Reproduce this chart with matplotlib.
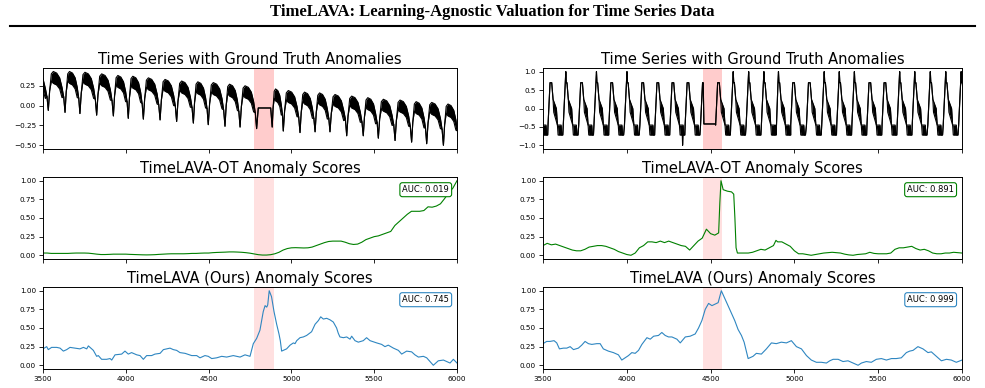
import matplotlib
matplotlib.use("Agg")
import matplotlib.pyplot as plt
from matplotlib.lines import Line2D
import numpy as np

TITLE = "TimeLAVA: Learning-Agnostic Valuation for Time Series Data"
ROW_TITLES = ["Time Series with Ground Truth Anomalies",
              "TimeLAVA-OT Anomaly Scores",
              "TimeLAVA (Ours) Anomaly Scores"]
X_TICKS = [3500, 4000, 4500, 5000, 5500, 6000]

# anomaly windows
LEFT_SPAN = (4775, 4895)
RIGHT_SPAN = (4455, 4568)

AUC_OT = ["AUC: 0.019", "AUC: 0.891"]
AUC_OURS = ["AUC: 0.745", "AUC: 0.999"]

# ---- left time series, read cycle by cycle (trough x, trough y, peak y)
left_trough_x = [3432, 3532, 3633, 3723, 3824, 3925, 4015, 4106, 4207, 4307,
                 4408, 4498, 4599, 4690, 4790]
left_trough_y = [-0.05, -0.06, -0.085, -0.10, -0.12, -0.13, -0.16, -0.17, -0.18,
                 -0.20, -0.22, -0.24, -0.26, -0.27, -0.29]
left_peak_y = [0.42, 0.43, 0.43, 0.42, 0.40, 0.38, 0.37, 0.35, 0.33, 0.31,
               0.30, 0.29, 0.27, 0.25]
# flat segment inside the anomaly
left_anom_x = [4800, 4875]
left_anom_y = [-0.03, -0.03]
left_post_trough_x = [4884, 4951, 5052, 5143, 5233, 5334, 5434, 5525, 5626,
                      5726, 5817, 5918, 6010]
left_post_trough_y = [-0.27, -0.32, -0.34, -0.33, -0.33, -0.38, -0.38, -0.41,
                      -0.44, -0.46, -0.48, -0.50, -0.45]
left_post_peak_y = [0.21, 0.19, 0.17, 0.16, 0.14, 0.12, 0.10, 0.08, 0.07,
                    0.05, 0.04, 0.02]
# hump shape inside one cycle (fraction of cycle), noisy band over the top
left_shape_f = [0.0, 0.08, 0.18, 0.30, 0.50, 0.68, 0.82, 0.92]
left_shape_hi = [0.0, 0.5, -0.03, 0.0, -0.02, -0.08, -0.20, 0.35]
left_shape_lo = [0.0, 0.5, -0.12, -0.15, -0.17, -0.22, -0.33, 0.35]
left_shape_kind = ["t", "m", "p", "p", "p", "p", "p", "m"]

# ---- right time series, read per cycle (top start, peak height)
right_cycle_x = [3452, 3542, 3633, 3725, 3816, 3905, 3998, 4090, 4180, 4270,
                 4360, 4452, 4542, 4632, 4724, 4815, 4902, 4990, 5084, 5175,
                 5265, 5355, 5445, 5535, 5625, 5715, 5808, 5900, 5992]
right_peak_y = [0.7, 0.7, 1.0, 0.7, 1.0, 0.7, 1.0, 0.7, 0.7, 0.7,
                0.7, 0.7, 0.7, 1.0, 1.0, 1.0, 1.0, 0.7, 0.7, 1.0,
                1.0, 1.0, 0.7, 0.7, 1.0, 1.0, 1.0, 1.0, 1.0]
RIGHT_ANOM_CYCLE = 11
right_dip_x = [4331, 4333, 4335]
right_dip_lo = [-0.72, -1.0, -0.72]
right_shape_off = [-12, 0, 3, 6, 10, 18, 22, 38, 44, 48, 66, 70, 76]
right_shape_hi = [-0.45, 0.7, None, 0.7, 0.7, 0.25, 0.2, 0.0, -0.45, -0.45,
                  -0.45, -0.72, -0.72]
right_shape_lo = [-0.45, 0.7, None, 0.7, 0.7, 0.25, -0.1, -0.35, -0.45, -0.72,
                  -0.72, -0.72, -0.72]

# ---- anomaly scores
left_ot_x = list(range(3500, 6001, 25))
left_ot_y = [0.03, 0.03, 0.025, 0.025, 0.025, 0.025, 0.025, 0.028, 0.03, 0.03,
             0.03, 0.028, 0.022, 0.015, 0.01, 0.01, 0.012, 0.015, 0.015, 0.015,
             0.015, 0.012, 0.01, 0.008, 0.006, 0.005, 0.006, 0.008, 0.012, 0.015,
             0.018, 0.02, 0.02, 0.02, 0.02, 0.022, 0.025, 0.025, 0.028, 0.03,
             0.03, 0.035, 0.038, 0.04, 0.042, 0.045, 0.045, 0.043, 0.04, 0.035,
             0.028, 0.018, 0.008, 0.003, 0.003, 0.008, 0.02, 0.04, 0.07, 0.09,
             0.10, 0.102, 0.10, 0.098, 0.10, 0.11, 0.13, 0.15, 0.17, 0.185,
             0.19, 0.19, 0.19, 0.175, 0.155, 0.145, 0.15, 0.175, 0.21, 0.23,
             0.25, 0.26, 0.28, 0.30, 0.32, 0.40, 0.45, 0.50, 0.55, 0.59,
             0.59, 0.59, 0.60, 0.65, 0.645, 0.66, 0.69, 0.76, 0.84, 0.90,
             1.0]

right_ot_x = [3500, 3525, 3550, 3575, 3600, 3625, 3650, 3675, 3700, 3725,
              3750, 3775, 3800, 3825, 3850, 3875, 3900, 3925, 3950, 3975,
              4000, 4025, 4050, 4075, 4100, 4125, 4150, 4175, 4200, 4225,
              4250, 4275, 4300, 4325, 4350, 4375, 4400, 4425, 4450, 4475,
              4500, 4525, 4548, 4555, 4562, 4575, 4600, 4625, 4638, 4645,
              4652, 4660, 4675, 4700, 4725, 4750, 4775, 4800, 4825, 4850,
              4875, 4890, 4900, 4925, 4950, 4975, 5000, 5025, 5050, 5075,
              5100, 5125, 5150, 5175, 5200, 5225, 5250, 5275, 5300, 5325,
              5350, 5375, 5400, 5425, 5450, 5475, 5500, 5525, 5550, 5575,
              5600, 5625, 5650, 5675, 5700, 5725, 5750, 5775, 5800, 5825,
              5850, 5875, 5900, 5925, 5950, 5975, 6000]
right_ot_y = [0.13, 0.16, 0.14, 0.15, 0.13, 0.11, 0.09, 0.07, 0.06, 0.06,
              0.08, 0.11, 0.12, 0.13, 0.13, 0.12, 0.10, 0.08, 0.05, 0.03,
              0.01, 0.0, 0.03, 0.10, 0.13, 0.18, 0.18, 0.17, 0.19, 0.17,
              0.19, 0.17, 0.15, 0.13, 0.12, 0.07, 0.13, 0.19, 0.23, 0.35,
              0.29, 0.27, 0.30, 0.70, 1.0, 0.88, 0.86, 0.85, 0.82, 0.5,
              0.1, 0.03, 0.03, 0.03, 0.03, 0.04, 0.06, 0.08, 0.07, 0.10,
              0.13, 0.20, 0.18, 0.18, 0.15, 0.12, 0.06, 0.02, 0.02, 0.01,
              0.0, 0.01, 0.02, 0.03, 0.035, 0.04, 0.035, 0.03, 0.015, 0.005,
              0.0, 0.01, 0.015, 0.02, 0.04, 0.025, 0.02, 0.02, 0.02, 0.03,
              0.08, 0.10, 0.10, 0.11, 0.12, 0.09, 0.07, 0.08, 0.06, 0.03,
              0.02, 0.02, 0.03, 0.03, 0.04, 0.035, 0.03]

left_ours_x = [3500, 3522, 3532, 3552, 3583, 3603, 3623, 3643, 3663, 3693,
               3723, 3744, 3764, 3774, 3804, 3824, 3834, 3854, 3884, 3905,
               3915, 3935, 3975, 3995, 4015, 4035, 4066, 4086, 4106, 4126,
               4156, 4176, 4207, 4227, 4247, 4267, 4287, 4307, 4327, 4358,
               4398, 4428, 4448, 4478, 4498, 4519, 4549, 4579, 4609, 4649,
               4690, 4720, 4750, 4770, 4790, 4810, 4830, 4841, 4851, 4857,
               4866, 4880, 4895, 4911, 4925, 4933, 4941, 4971, 4992, 5012,
               5022, 5032, 5052, 5072, 5092, 5122, 5143, 5163, 5177, 5193,
               5213, 5233, 5253, 5273, 5283, 5293, 5314, 5334, 5354, 5364,
               5384, 5404, 5434, 5454, 5475, 5515, 5545, 5565, 5585, 5616,
               5646, 5666, 5696, 5726, 5746, 5767, 5797, 5817, 5837, 5857,
               5887, 5918, 5938, 5958, 5978, 6000]
left_ours_y = [0.22, 0.25, 0.21, 0.24, 0.24, 0.23, 0.19, 0.21, 0.24, 0.23,
               0.22, 0.24, 0.22, 0.26, 0.20, 0.12, 0.13, 0.08, 0.08, 0.09,
               0.07, 0.14, 0.15, 0.19, 0.15, 0.17, 0.14, 0.13, 0.08, 0.13,
               0.13, 0.15, 0.16, 0.21, 0.22, 0.23, 0.21, 0.20, 0.17, 0.16,
               0.13, 0.13, 0.10, 0.13, 0.12, 0.09, 0.10, 0.12, 0.11, 0.13,
               0.11, 0.14, 0.12, 0.29, 0.36, 0.47, 0.72, 0.80, 0.78, 0.81,
               1.0, 0.92, 0.72, 0.55, 0.42, 0.33, 0.19, 0.22, 0.27, 0.30,
               0.29, 0.33, 0.37, 0.38, 0.40, 0.45, 0.55, 0.60, 0.65, 0.62,
               0.63, 0.61, 0.58, 0.50, 0.43, 0.38, 0.37, 0.38, 0.35, 0.39,
               0.33, 0.31, 0.33, 0.37, 0.33, 0.30, 0.28, 0.25, 0.27, 0.23,
               0.20, 0.15, 0.19, 0.18, 0.14, 0.11, 0.12, 0.10, 0.05, 0.00,
               0.06, 0.07, 0.05, 0.03, 0.08, 0.03]

right_ours_x = [3500, 3522, 3542, 3566, 3582, 3598, 3622, 3642, 3662, 3682,
                3711, 3731, 3751, 3771, 3791, 3821, 3841, 3860, 3890, 3920,
                3950, 3970, 3990, 4010, 4030, 4050, 4070, 4090, 4120, 4140,
                4160, 4189, 4209, 4229, 4249, 4269, 4299, 4319, 4349, 4378,
                4408, 4428, 4448, 4468, 4488, 4508, 4545, 4564, 4584, 4614,
                4644, 4664, 4684, 4700, 4724, 4753, 4773, 4803, 4833, 4863,
                4892, 4922, 4952, 4982, 5012, 5042, 5072, 5101, 5131, 5161,
                5191, 5211, 5231, 5261, 5290, 5320, 5350, 5380, 5400, 5429,
                5459, 5489, 5519, 5549, 5579, 5608, 5638, 5668, 5688, 5708,
                5737, 5767, 5797, 5817, 5847, 5877, 5907, 5936, 5966, 6000]
right_ours_y = [0.29, 0.32, 0.32, 0.33, 0.30, 0.22, 0.23, 0.23, 0.25, 0.21,
                0.23, 0.27, 0.32, 0.29, 0.28, 0.29, 0.29, 0.22, 0.19, 0.17,
                0.14, 0.07, 0.10, 0.13, 0.17, 0.16, 0.20, 0.28, 0.37, 0.35,
                0.39, 0.40, 0.44, 0.40, 0.38, 0.38, 0.35, 0.30, 0.38, 0.39,
                0.42, 0.50, 0.60, 0.75, 0.83, 0.80, 0.84, 1.0, 0.90, 0.75,
                0.60, 0.48, 0.40, 0.31, 0.09, 0.12, 0.16, 0.15, 0.22, 0.30,
                0.29, 0.31, 0.30, 0.33, 0.25, 0.22, 0.13, 0.07, 0.04, 0.04,
                0.03, 0.06, 0.08, 0.08, 0.05, 0.06, 0.03, 0.00, 0.03, 0.05,
                0.04, 0.08, 0.09, 0.07, 0.09, 0.09, 0.10, 0.17, 0.19, 0.20,
                0.25, 0.22, 0.17, 0.18, 0.12, 0.06, 0.08, 0.07, 0.04, 0.07]

OT_COLOR = "green"
OURS_COLOR = "#2e86c1"


def left_series():
    xs, hi, lo = [], [], []

    def level(kind, rel, y, p):
        # "t": trough value, "m": fraction between trough and peak, "p": offset from peak
        if kind == "t":
            return y
        if kind == "m":
            return y + rel * (p - y)
        return p + rel

    def add_cycles(tx, ty, py):
        for k in range(len(py)):
            t0, t1, y, p = tx[k], tx[k + 1], ty[k], py[k]
            for f, h, l, kind in zip(left_shape_f, left_shape_hi, left_shape_lo, left_shape_kind):
                a, b = level(kind, h, y, p), level(kind, l, y, p)
                xs.append(t0 + f * (t1 - t0))
                hi.append(a)
                lo.append(min(a, b))

    add_cycles(left_trough_x, left_trough_y, left_peak_y)
    xs.append(left_trough_x[-1]); hi.append(left_trough_y[-1]); lo.append(left_trough_y[-1])
    for x, y in zip(left_anom_x, left_anom_y):
        xs.append(x); hi.append(y); lo.append(y)
    add_cycles(left_post_trough_x, left_post_trough_y, left_post_peak_y)
    xs.append(left_post_trough_x[-1]); hi.append(left_post_trough_y[-1]); lo.append(left_post_trough_y[-1])
    return np.array(xs), np.array(hi), np.array(lo)


def right_series():
    xs, hi, lo = [], [], []
    for k, a in enumerate(right_cycle_x):
        if k == RIGHT_ANOM_CYCLE:
            nxt = right_cycle_x[k + 1]
            for off, v in zip([-12, 0, 4, 8, nxt - a - 14], [-0.45, 0.7, 0.7, -0.42, -0.42]):
                xs.append(a + off); hi.append(v); lo.append(v)
            continue
        for off, h, l in zip(right_shape_off, right_shape_hi, right_shape_lo):
            if h is None:
                h = l = right_peak_y[k]
            xs.append(a + off); hi.append(h); lo.append(l)
    for x, l in zip(right_dip_x, right_dip_lo):
        xs.append(x); hi.append(-0.45); lo.append(l)
    order = np.argsort(xs, kind="stable")
    return np.array(xs)[order], np.array(hi)[order], np.array(lo)[order]


fig = plt.figure(figsize=(9.85, 3.88), dpi=100)

col_x = [43 / 985, 543 / 985]
col_w = [414 / 985, 419 / 985]
row_y = [1 - 149 / 388, 1 - 259 / 388, 1 - 369 / 388]
row_h = [81 / 388, 82 / 388, 82 / 388]

axes = [[fig.add_axes([col_x[c], row_y[r], col_w[c], row_h[r]]) for c in range(2)]
        for r in range(3)]

series = [left_series(), right_series()]
spans = [LEFT_SPAN, RIGHT_SPAN]
ot = [(left_ot_x, left_ot_y), (right_ot_x, right_ot_y)]
ours = [(left_ours_x, left_ours_y), (right_ours_x, right_ours_y)]

for c in range(2):
    # time series
    ax = axes[0][c]
    x, hi, lo = series[c]
    ax.fill_between(x, lo, hi, color="black", lw=0)
    ax.plot(x, hi, color="black", lw=0.8)
    ax.plot(x, lo, color="black", lw=0.8)
    ax.axvspan(*spans[c], color="red", alpha=0.2, lw=0)
    if c == 0:
        ax.set_ylim(-0.547, 0.474)
        ax.set_yticks([-0.5, -0.25, 0.0, 0.25])
    else:
        ax.set_ylim(-1.1, 1.1)
        ax.set_yticks([-1.0, -0.5, 0.0, 0.5, 1.0])

    # scores
    ax = axes[1][c]
    ax.plot(*ot[c], color=OT_COLOR, lw=0.8)
    ax.axvspan(*spans[c], color="red", alpha=0.12, lw=0)
    ax.text(0.981, 0.90, AUC_OT[c], transform=ax.transAxes, ha="right", va="top",
            fontsize=6, bbox=dict(boxstyle="round,pad=0.3", fc="white", ec=OT_COLOR, lw=0.8))

    ax = axes[2][c]
    ax.plot(*ours[c], color=OURS_COLOR, lw=0.8)
    ax.axvspan(*spans[c], color="red", alpha=0.12, lw=0)
    ax.text(0.981, 0.90, AUC_OURS[c], transform=ax.transAxes, ha="right", va="top",
            fontsize=6, bbox=dict(boxstyle="round,pad=0.3", fc="white", ec=OURS_COLOR, lw=0.8))

    for r in range(3):
        ax = axes[r][c]
        ax.set_xlim(3500, 6000)
        ax.set_xticks(X_TICKS)
        if r < 2:
            ax.set_xticklabels([])
        if r > 0:
            ax.set_ylim(-0.05, 1.05)
            ax.set_yticks([0, 0.25, 0.5, 0.75, 1.0])
        ax.tick_params(labelsize=5.2, length=3, width=0.6, pad=2)
        for s in ax.spines.values():
            s.set_linewidth(0.7)
        ax.set_title(ROW_TITLES[r], fontsize=10.5, pad=3)

fig.text(0.5, 0.969, TITLE, ha="center", va="center", fontsize=12,
         fontweight="bold", family="Liberation Serif")
fig.add_artist(Line2D([0.01, 0.99], [0.933, 0.933], color="black", lw=1.5))

fig.savefig("out.png", dpi=100)
